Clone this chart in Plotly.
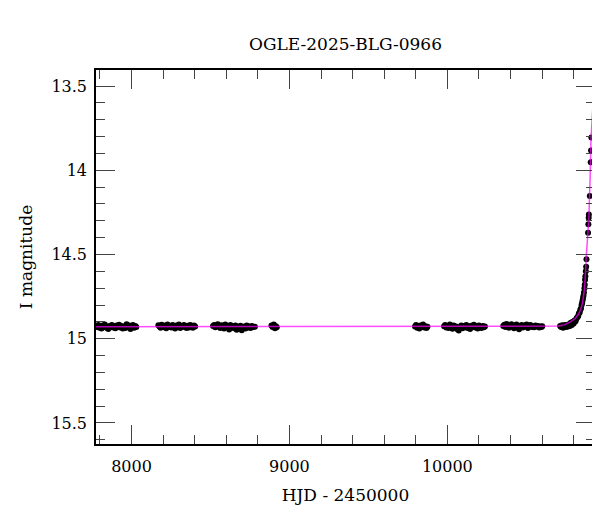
import plotly.graph_objects as go

# ---- data (HJD - 2450000, I magnitude) ----
s1_days = [7779, 7784, 7790, 7797, 7803, 7810, 7817, 7824, 7831, 7838, 7845, 7853, 7860, 7868, 7875, 7883, 7890, 7898,
           7905, 7913, 7921, 7929, 7937, 7945, 7953, 7961, 7969, 7977, 7985, 7993, 8001, 8009, 8017, 8024, 8030]
s1_mags = [14.925, 14.930, 14.918, 14.935, 14.928, 14.940, 14.922, 14.932, 14.915, 14.927, 14.936, 14.942, 14.924,
           14.931, 14.919, 14.934, 14.926, 14.938, 14.921, 14.929, 14.917, 14.933, 14.925, 14.940, 14.928, 14.936,
           14.914, 14.930, 14.922, 14.943, 14.927, 14.918, 14.935, 14.924, 14.931]

s2_days = [8170, 8177, 8184, 8191, 8198, 8205, 8212, 8220, 8228, 8236, 8244, 8252, 8260, 8268, 8276, 8284, 8292, 8300,
           8308, 8316, 8324, 8332, 8340, 8348, 8356, 8364, 8372, 8380, 8388, 8396, 8403]
s2_mags = [14.920, 14.928, 14.935, 14.917, 14.926, 14.932, 14.922, 14.938, 14.915, 14.929, 14.924, 14.934, 14.919,
           14.927, 14.940, 14.921, 14.930, 14.916, 14.936, 14.925, 14.931, 14.918, 14.928, 14.937, 14.923, 14.933,
           14.919, 14.929, 14.935, 14.921, 14.927]

s3_days = [8516, 8523, 8530, 8538, 8546, 8554, 8562, 8570, 8578, 8586, 8594, 8602, 8610, 8618, 8626, 8634, 8642, 8650,
           8658, 8666, 8674, 8682, 8690, 8698, 8706, 8714, 8722, 8730, 8738, 8746, 8754, 8762, 8770, 8781,
           8886, 8893, 8901, 8908, 8914, 8920]
s3_mags = [14.925, 14.918, 14.932, 14.922, 14.914, 14.929, 14.936, 14.920, 14.927, 14.940, 14.916, 14.931, 14.924,
           14.945, 14.919, 14.933, 14.926, 14.938, 14.921, 14.947, 14.929, 14.935, 14.923, 14.950, 14.931, 14.927,
           14.940, 14.922, 14.934, 14.928, 14.936, 14.925, 14.931, 14.929,
           14.922, 14.930, 14.915, 14.938, 14.926, 14.932]

s4_days = [9795, 9802, 9809, 9816, 9823, 9830, 9838, 9846, 9854, 9862, 9868, 9874]
s4_mags = [14.928, 14.918, 14.935, 14.924, 14.940, 14.921, 14.931, 14.915, 14.934, 14.926, 14.937, 14.929]

s5_days = [9979, 9986, 9993, 10000, 10008, 10016, 10024, 10032, 10040, 10048, 10056, 10064, 10072, 10080, 10088,
           10096, 10104, 10112, 10120, 10128, 10136, 10144, 10152, 10160, 10168, 10176, 10184, 10192, 10200, 10208,
           10216, 10224, 10231, 10238]
s5_mags = [14.926, 14.919, 14.933, 14.924, 14.937, 14.916, 14.929, 14.941, 14.922, 14.935, 14.927, 14.944, 14.951,
           14.930, 14.921, 14.938, 14.925, 14.932, 14.918, 14.936, 14.928, 14.942, 14.923, 14.931, 14.917, 14.934,
           14.926, 14.939, 14.921, 14.930, 14.936, 14.924, 14.932, 14.928]

s6_days = [10354, 10361, 10368, 10375, 10382, 10390, 10398, 10406, 10414, 10422, 10430, 10438, 10446, 10454, 10462,
           10470, 10478, 10486, 10494, 10502, 10510, 10518, 10526, 10534, 10542, 10550, 10558, 10566, 10574, 10582,
           10590, 10596, 10601]
s6_mags = [14.924, 14.917, 14.930, 14.912, 14.926, 14.935, 14.920, 14.914, 14.929, 14.938, 14.922, 14.916, 14.931,
           14.944, 14.925, 14.919, 14.933, 14.921, 14.928, 14.915, 14.936, 14.924, 14.918, 14.930, 14.926, 14.932,
           14.921, 14.928, 14.924, 14.934, 14.927, 14.930, 14.926]

s7_days = [10714, 10720, 10727, 10733, 10740, 10746, 10752, 10758, 10764, 10770, 10776, 10782, 10788, 10794, 10800,
           10806, 10812, 10818, 10823, 10828, 10833, 10838, 10842, 10846, 10850, 10853, 10856, 10859, 10862, 10865,
           10868, 10870, 10872, 10874, 10877, 10879, 10881, 10891, 10893, 10895, 10896, 10902, 10908, 10910, 10912]
s7_mags = [14.925, 14.930, 14.920, 14.935, 14.926, 14.918, 14.931, 14.922, 14.928, 14.914, 14.925, 14.905, 14.918,
           14.900, 14.910, 14.892, 14.897, 14.880, 14.872, 14.866, 14.850, 14.845, 14.828, 14.820, 14.800, 14.790,
           14.775, 14.760, 14.745, 14.725, 14.700, 14.680, 14.650, 14.630, 14.600, 14.573, 14.528, 14.371, 14.321,
           14.282, 14.262, 14.153, 13.952, 13.883, 13.805]

model_days = [7770, 10650, 10700, 10740, 10780, 10810, 10830, 10845, 10855, 10865, 10872, 10879, 10888, 10896,
              10904, 10910, 10918, 10927]
model_mags = [14.929, 14.929, 14.925, 14.918, 14.90, 14.88, 14.855, 14.825, 14.79, 14.73, 14.66, 14.52, 14.40,
              14.29, 14.05, 13.81, 13.68, 13.53]

title_text = "OGLE-2025-BLG-0966"
x_title = "HJD - 2450000"
y_title = "I magnitude"

days = s1_days + s2_days + s3_days + s4_days + s5_days + s6_days + s7_days
mags = s1_mags + s2_mags + s3_mags + s4_mags + s5_mags + s6_mags + s7_mags

FONT = "DejaVu Serif"

fig = go.Figure()
fig.add_trace(go.Scatter(x=days, y=mags, mode="markers",
                         marker=dict(color="black", size=6, line=dict(width=0)),
                         showlegend=False, cliponaxis=True))
fig.add_trace(go.Scatter(x=model_days, y=model_mags, mode="lines",
                         line=dict(color="rgba(255,0,255,0.7)", width=1.5),
                         showlegend=False))

axis_common = dict(showline=True, linecolor="black", linewidth=1.5, mirror="allticks",
                   ticks="inside", tickcolor="#444", tickwidth=1, ticklen=19,
                   showgrid=False, zeroline=False,
                   tickfont=dict(family=FONT, size=16, color="black"))

fig.update_xaxes(range=[7775, 10935], dtick=1000, tick0=0, tickformat="d",
                 minor=dict(dtick=200, tick0=0, ticks="inside", ticklen=9, tickcolor="#444", showgrid=False),
                 title=dict(text=x_title, font=dict(family=FONT, size=17, color="black"), standoff=14),
                 ticklabelstandoff=7,
                 **axis_common)
fig.update_yaxes(range=[15.625, 13.405], dtick=0.5, tick0=0,
                 minor=dict(dtick=0.1, tick0=0, ticks="inside", ticklen=9, tickcolor="#444", showgrid=False),
                 title=dict(text=y_title, font=dict(family=FONT, size=17, color="black"), standoff=14),
                 ticklabelstandoff=4,
                 **axis_common)

fig.update_layout(
    width=600, height=512,
    margin=dict(l=88, r=13, t=62, b=76, autoexpand=False),
    paper_bgcolor="white", plot_bgcolor="white",
    title=dict(text=title_text, x=0.5625, xref="container", xanchor="center",
               y=1 - 36 / 512, yref="container", yanchor="middle",
               font=dict(family=FONT, size=17, color="black")),
)

fig.write_html("out.html")
